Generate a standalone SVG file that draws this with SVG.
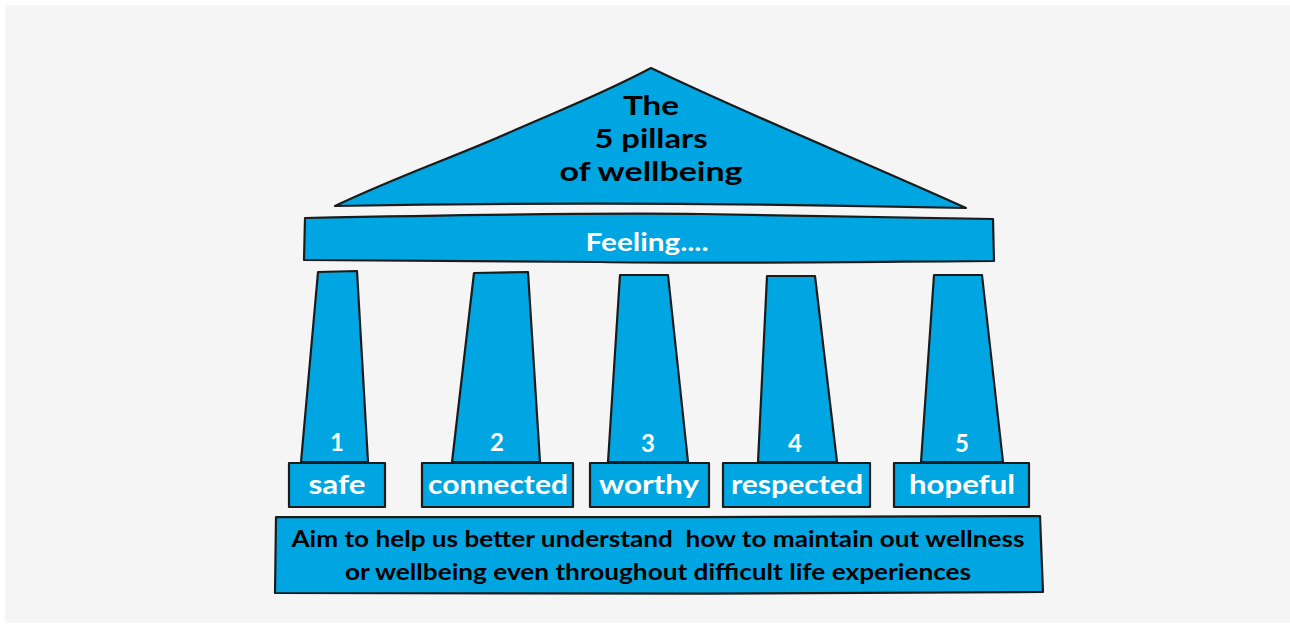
<svg xmlns="http://www.w3.org/2000/svg" width="1290" height="625" viewBox="0 0 1290 625">
<style>
.s{fill:#00a6e2;stroke:#1b1b1b;stroke-width:2.2;stroke-linejoin:round}
.w{fill:#ffffff;font-family:Lato,"Open Sans",sans-serif;font-weight:700;text-anchor:middle}
.k{fill:#000000;font-family:Lato,"Open Sans",sans-serif;font-weight:700;text-anchor:middle}
.b{fill:#000000;font-family:Lato,"Open Sans",sans-serif;font-weight:700;text-anchor:middle}
</style>
<rect x="0" y="0" width="1290" height="625" fill="#ffffff"/>
<rect x="5" y="5" width="1285" height="618" fill="#f5f5f5"/>
<g id="roof">
<path class="s" d="M651,68 C600,95 560,110 515,130 C460,155 400,175 335,206 C500,203 700,202 966,208 C860,160 760,120 651,68 Z"/>
<text class="k" x="651" y="115" font-size="27" textLength="56" lengthAdjust="spacingAndGlyphs">The</text>
<text class="k" x="651" y="148" font-size="27" textLength="113" lengthAdjust="spacingAndGlyphs">5 pillars</text>
<text class="k" x="651" y="181" font-size="27" textLength="183" lengthAdjust="spacingAndGlyphs">of wellbeing</text>
</g>
<g id="beam">
<path class="s" d="M305,218 C450,215 600,213 700,214 C800,215 900,218 993,219 L994,261 C850,262 700,264 600,262 C500,261 400,260 304,260 Z"/>
<text class="w" x="647" y="251" font-size="25" textLength="123" lengthAdjust="spacingAndGlyphs">Feeling....</text>
</g>
<g id="pillar1">
<path class="s" d="M318,272 L357,271 L368,462 L301,462 Z"/>
<text class="w" x="337" y="451" font-size="24">1</text>
<rect class="s" x="289" y="463" width="96" height="44"/>
<text class="w" x="337" y="494" font-size="26" textLength="57" lengthAdjust="spacingAndGlyphs">safe</text>
</g>
<g id="pillar2">
<path class="s" d="M474,273 L528,272 L540,462 L452,462 Z"/>
<text class="w" x="497" y="451" font-size="24">2</text>
<rect class="s" x="422" y="463" width="151" height="44"/>
<text class="w" x="498" y="494" font-size="26" textLength="140" lengthAdjust="spacingAndGlyphs">connected</text>
</g>
<g id="pillar3">
<path class="s" d="M620,275 L668,275 L688,462 L608,462 Z"/>
<text class="w" x="648" y="452" font-size="24">3</text>
<rect class="s" x="590" y="463" width="119" height="44"/>
<text class="w" x="649" y="494" font-size="26" textLength="100" lengthAdjust="spacingAndGlyphs">worthy</text>
</g>
<g id="pillar4">
<path class="s" d="M767,276 L815,276 L837,462 L758,462 Z"/>
<text class="w" x="795" y="452" font-size="24">4</text>
<rect class="s" x="723" y="463" width="147" height="44"/>
<text class="w" x="797" y="494" font-size="26" textLength="132" lengthAdjust="spacingAndGlyphs">respected</text>
</g>
<g id="pillar5">
<path class="s" d="M934,275 L982,275 L1003,462 L921,462 Z"/>
<text class="w" x="962" y="452" font-size="24">5</text>
<rect class="s" x="894" y="463" width="135" height="44"/>
<text class="w" x="962" y="494" font-size="26" textLength="106" lengthAdjust="spacingAndGlyphs">hopeful</text>
</g>
<g id="base">
<path class="s" d="M276,517 C500,518 800,517 1040,516 L1043,592 C800,594 500,594 275,593 Z"/>
<text class="b" x="658" y="547" font-size="22" textLength="733" lengthAdjust="spacingAndGlyphs" xml:space="preserve">Aim to help us better understand  how to maintain out wellness</text>
<text class="b" x="658" y="580" font-size="22" textLength="626" lengthAdjust="spacingAndGlyphs">or wellbeing even throughout difficult life experiences</text>
</g>
<g id="connectors"></g>
</svg>
